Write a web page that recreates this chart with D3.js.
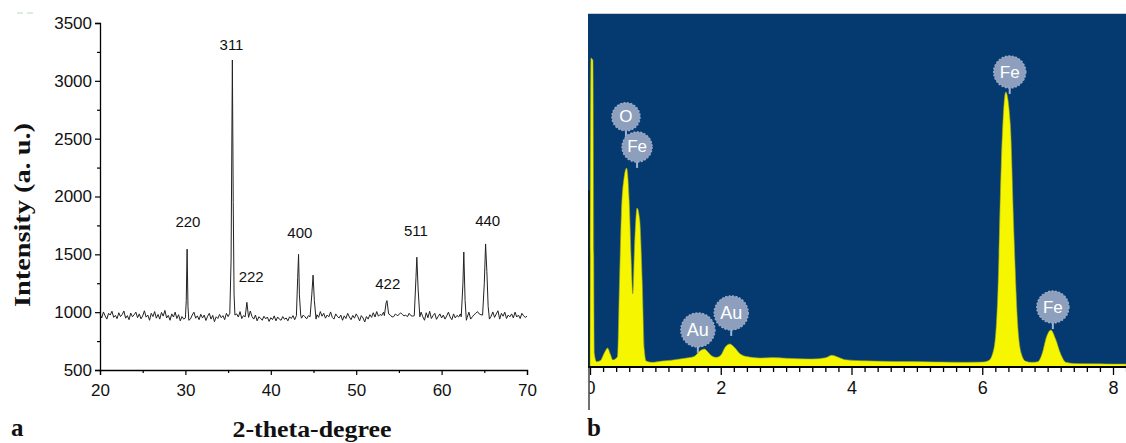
<!DOCTYPE html>
<html><head><meta charset="utf-8">
<script src="https://cdn.jsdelivr.net/npm/d3@7"></script>
<style>
html,body{margin:0;padding:0;background:#fff;}
svg{display:block;}
</style></head>
<body>
<svg id="c" width="1126" height="443"></svg>
<script>
// ---------- Panel a: XRD ----------
const xrdStart = 20, xrdStep = 0.2;
const xrdBaseline = [
 985, 950, 1002, 968, 940, 990, 975, 1008, 955, 972,
 944, 995, 962, 980, 1010, 948, 970, 935, 992, 960,
 978, 1000, 952, 985, 942, 968, 1012, 957, 975, 930,
 990, 962, 1005, 948, 980, 940, 998, 966, 1015, 950,
 972, 930, 985, 958, 1000, 945, 978, 925, 962, 940,
 955, 960, 990, 942, 975, 1000, 948, 968, 935, 982,
 950, 975, 928, 965, 990, 940, 972, 918, 960, 945,
 980, 952, 970, 935, 990, 962, 948, 975, 995, 960,
 985, 958, 1005, 945, 970, 932, 988, 955, 1010, 962,
 940, 975, 925, 960, 948, 930, 965, 942, 958, 920,
 952, 935, 968, 925, 958, 940, 930, 962, 938, 950,
 925, 960, 945, 970, 935, 955, 990, 960, 948, 975,
 960, 942, 970, 985, 960, 995, 940, 978, 955, 1005,
 965, 990, 948, 975, 960, 1002, 955, 940, 985, 962,
 950, 975, 930, 968, 945, 990, 958, 935, 972, 948,
 985, 960, 925, 970, 950, 915, 962, 940, 978, 955,
 995, 958, 1005, 965, 980, 972, 1000, 1010, 990, 960,
 975, 958, 962, 985, 970, 978, 995, 980, 968, 975,
 960, 990, 970, 965, 975, 985, 992, 945, 1000, 960,
 930, 995, 952, 1008, 945, 970, 990, 938, 962, 985,
 950, 975, 940, 968, 1000, 958, 935, 985, 950, 972,
 958, 985, 970, 990, 965, 955, 1000, 940, 960, 978,
 990, 1005, 985, 978, 1000, 998, 985, 935, 1010, 965,
 1002, 955, 985, 1012, 940, 990, 965, 1000, 945, 975,
 960, 985, 950, 1000, 958, 975, 945, 990, 968, 955,
 965
];
// peak profiles [2theta, intensity]
const xrdPeaks = [
 [[30.0, 950], [30.1, 1100], [30.2, 1545], [30.3, 1050], [30.4, 930]],
 [[35.2, 990], [35.35, 1450], [35.5, 3180], [35.6, 1950], [35.7, 1150], [35.8, 975]],
 [[37.0, 960], [37.2, 1085], [37.35, 985]],
 [[43.0, 970], [43.15, 1300], [43.25, 1500], [43.35, 1150], [43.5, 975]],
 [[44.6, 960], [44.8, 1150], [44.95, 1320], [45.1, 1100], [45.3, 940]],
 [[53.3, 970], [53.5, 1080], [53.6, 1100], [53.8, 985]],
 [[56.8, 970], [57.0, 1300], [57.1, 1475], [57.25, 1200], [57.45, 960]],
 [[62.3, 960], [62.5, 1250], [62.6, 1520], [62.75, 1100], [62.9, 930]],
 [[64.8, 975], [65.0, 1250], [65.15, 1590], [65.3, 1350], [65.45, 1050], [65.6, 940]]
];
const hklLabels = ["220", "311", "222", "400", "422", "511", "440"];
const hklTheta  = [30.3, 35.4, 37.7, 43.4, 53.7, 57.0, 65.4];
const hklLevel  = [1780, 3310, 1305, 1690, 1245, 1705, 1795];
const xrdXTicks = [20, 30, 40, 50, 60, 70];
const xrdYTicks = [500, 1000, 1500, 2000, 2500, 3000, 3500];

// ---------- Panel b: EDS ----------
const edsSpectrum = [
 [0.0, 40], [0.015, 2618], [0.045, 2600], [0.065, 120], [0.1, 45], [0.16, 55], [0.22, 120], [0.27, 161],
 [0.31, 110], [0.35, 60], [0.39, 70], [0.42, 90], [0.45, 700], [0.48, 1300], [0.52, 1600], [0.56, 1686],
 [0.6, 1400], [0.63, 900], [0.655, 620], [0.68, 1000], [0.72, 1347], [0.76, 1250], [0.8, 700],
 [0.83, 150], [0.86, 50], [0.95, 40], [1.0, 42], [1.1, 50], [1.2, 55], [1.3, 62], [1.4, 70], [1.5, 78],
 [1.6, 92], [1.68, 135], [1.75, 152], [1.8, 130], [1.86, 95], [1.93, 82], [2.0, 100], [2.07, 170],
 [2.14, 195], [2.2, 172], [2.3, 110], [2.4, 88], [2.5, 80], [2.6, 76], [2.8, 80], [3.0, 74], [3.2, 70],
 [3.4, 68], [3.6, 78], [3.7, 100], [3.8, 82], [3.9, 62], [4.2, 52], [4.5, 48], [4.8, 46], [5.1, 45],
 [5.4, 42], [5.7, 40], [6.0, 42], [6.1, 55], [6.18, 160], [6.24, 650], [6.29, 1700], [6.36, 2330],
 [6.43, 2050], [6.48, 1200], [6.54, 380], [6.6, 110], [6.66, 50], [6.75, 40], [6.85, 45], [6.92, 120],
 [6.98, 250], [7.05, 313], [7.12, 240], [7.2, 110], [7.28, 40], [7.4, 30], [7.6, 28], [7.8, 27],
 [8.0, 25], [8.2, 25]
];
const edsLabels = ["O", "Fe", "Au", "Au", "Fe", "Fe"];
const edsLabelKeV = [0.55, 0.72, 1.65, 2.16, 6.42, 7.08];
const edsLabelLevel = [2120, 1865, 314, 458, 2500, 508];
const edsXTicks = [0, 2, 4, 6, 8];

// ---------- drawing ----------
const svg = d3.select("#c");

// Panel a geometry
const ax = {l: 100, r: 527, t: 23, b: 370};
const xA = d3.scaleLinear().domain([20, 70]).range([ax.l, ax.r]);
const yA = d3.scaleLinear().domain([500, 3500]).range([ax.b, ax.t]);

// build data
const spans = xrdPeaks.map(p => [p[0][0], p[p.length - 1][0]]);
let xrd = xrdBaseline.map((v, i) => [+(xrdStart + i * xrdStep).toFixed(2), v])
  .filter(d => !spans.some(s => d[0] >= s[0] - 1e-9 && d[0] <= s[1] + 1e-9));
xrdPeaks.forEach(p => p.forEach(d => xrd.push(d)));
xrd.sort((a, b) => a[0] - b[0]);

svg.append("path").datum(xrd)
  .attr("d", d3.line().x(d => xA(d[0])).y(d => yA(d[1])))
  .attr("fill", "none").attr("stroke", "#222").attr("stroke-width", 1);

// axes
const gxA = svg.append("g").attr("transform", `translate(0,${ax.b})`)
  .call(d3.axisBottom(xA).tickValues(d3.range(20, 70.1, 5)).tickSize(5).tickFormat(d => xrdXTicks.includes(d) ? d : ""));
gxA.selectAll(".tick line").attr("y2", d => xrdXTicks.includes(d) ? 5 : 3);
const gyA = svg.append("g").attr("transform", `translate(${ax.l},0)`)
  .call(d3.axisLeft(yA).tickValues(d3.range(500, 3501, 250)).tickSize(5).tickFormat(d => xrdYTicks.includes(d) ? d : ""));
gyA.selectAll(".tick line").attr("x2", d => xrdYTicks.includes(d) ? -5 : -3);
[gxA, gyA].forEach(g => {
  g.select(".domain").attr("stroke", "#000").attr("stroke-width", 1.3);
  g.selectAll(".tick line").attr("stroke", "#000").attr("stroke-width", 1.2);
  g.selectAll("text").attr("font-family", "Liberation Sans, Arial, sans-serif").attr("font-size", 17).attr("fill", "#111");
});
gxA.selectAll("text").attr("dy", "1.05em");
gyA.selectAll("text").attr("x", -8);

// peak labels
svg.append("g").selectAll("text").data(hklLabels).join("text")
  .attr("x", (d, i) => xA(hklTheta[i])).attr("y", (d, i) => yA(hklLevel[i]))
  .attr("text-anchor", "middle").attr("dominant-baseline", "central")
  .attr("font-family", "Liberation Sans, Arial, sans-serif").attr("font-size", 15).attr("fill", "#111")
  .text(d => d);

// titles
svg.append("text").attr("transform", "translate(30,215) rotate(-90)")
  .attr("text-anchor", "middle").attr("font-family", "Liberation Serif, Times New Roman, serif")
  .attr("font-weight", "bold").attr("font-size", 24).attr("fill", "#111")
  .attr("textLength", 184).attr("lengthAdjust", "spacingAndGlyphs")
  .text("Intensity (a. u.)");
svg.append("text").attr("x", 312).attr("y", 437)
  .attr("text-anchor", "middle").attr("font-family", "Liberation Serif, Times New Roman, serif")
  .attr("font-weight", "bold").attr("font-size", 24).attr("fill", "#111")
  .attr("textLength", 159).attr("lengthAdjust", "spacingAndGlyphs")
  .text("2-theta-degree");
svg.append("text").attr("x", 11).attr("y", 436)
  .attr("font-family", "Liberation Serif, Times New Roman, serif")
  .attr("font-weight", "bold").attr("font-size", 25).attr("fill", "#111").text("a");
// faint artifact dashes
svg.append("line").attr("x1", 17).attr("x2", 23).attr("y1", 13).attr("y2", 13).attr("stroke", "#b8dcc0").attr("stroke-width", 1);
svg.append("line").attr("x1", 27).attr("x2", 33).attr("y1", 13).attr("y2", 13).attr("stroke", "#b8dcc0").attr("stroke-width", 1);

// Panel b geometry
const bx = {l: 588, r: 1126, t: 13, b: 367};
const xB = d3.scaleLinear().domain([0, 8]).range([590, 1113]);
const yB = d3.scaleLinear().domain([0, 3000]).range([bx.b, bx.t]);

svg.append("rect").attr("x", bx.l).attr("y", bx.t).attr("width", bx.r - bx.l).attr("height", bx.b - bx.t)
  .attr("fill", "#053a70");
svg.append("line").attr("x1", bx.l).attr("x2", bx.r).attr("y1", bx.t + 0.5).attr("y2", bx.t + 0.5)
  .attr("stroke", "#c9cdd4").attr("stroke-width", 1);

svg.append("clipPath").attr("id", "bclip").append("rect")
  .attr("x", bx.l).attr("y", bx.t).attr("width", bx.r - bx.l).attr("height", bx.b - bx.t);

svg.append("path").datum(edsSpectrum).attr("clip-path", "url(#bclip)")
  .attr("d", d3.area().x(d => xB(d[0])).y0(yB(0)).y1(d => yB(d[1])).curve(d3.curveMonotoneX))
  .attr("fill", "#f6f600").attr("stroke", "#9aa520").attr("stroke-width", 0.6);

// EDS axis
const gxB = svg.append("g").attr("transform", `translate(0,${bx.b})`)
  .call(d3.axisBottom(xB).tickValues(d3.range(0, 8.21, 0.2).map(v => +v.toFixed(1))).tickSize(5)
    .tickFormat(d => edsXTicks.includes(d) ? d : ""));
gxB.select(".domain").remove();
gxB.selectAll(".tick line").attr("stroke", "#000").attr("stroke-width", 1.3)
  .attr("y2", d => edsXTicks.includes(d) ? 8 : 5);
gxB.selectAll("text").attr("font-family", "Liberation Sans, Arial, sans-serif").attr("font-size", 18)
  .attr("fill", "#111").attr("dy", "1.05em");
svg.append("line").attr("x1", bx.l).attr("x2", bx.r).attr("y1", bx.b).attr("y2", bx.b)
  .attr("stroke", "#000").attr("stroke-width", 2);
svg.append("line").attr("x1", 589).attr("x2", 589).attr("y1", 190).attr("y2", 410)
  .attr("stroke", "#111").attr("stroke-width", 1.2);
// clip the "0" label like the reference (local coords of the tick group)
svg.append("clipPath").attr("id", "zclip").append("rect").attr("x", -1).attr("y", 0).attr("width", 40).attr("height", 60);
gxB.selectAll(".tick").filter(d => d === 0).attr("clip-path", "url(#zclip)");

// EDS element markers
const radius = [14, 15, 17, 17, 16, 16];
const mk = svg.append("g").selectAll("g").data(edsLabels).join("g")
  .attr("transform", (d, i) => `translate(${xB(edsLabelKeV[i])},${yB(edsLabelLevel[i])})`);
mk.append("line").attr("x1", 0).attr("x2", 0).attr("y1", (d, i) => radius[i] - 2).attr("y2", (d, i) => radius[i] + 6)
  .attr("stroke", "#9fb3d3").attr("stroke-width", 2);
mk.append("circle").attr("r", (d, i) => radius[i]).attr("fill", "#8e9fbd")
  .attr("stroke", "#9aabc6").attr("stroke-width", 1.5).attr("stroke-dasharray", "2 1.5");
mk.append("text").attr("text-anchor", "middle").attr("dominant-baseline", "central")
  .attr("font-family", "Liberation Sans, Arial, sans-serif").attr("font-size", (d, i) => i >= 2 && i <= 3 ? 18 : 17)
  .attr("fill", "#fff").text(d => d);

svg.append("text").attr("x", 587).attr("y", 436)
  .attr("font-family", "Liberation Serif, Times New Roman, serif")
  .attr("font-weight", "bold").attr("font-size", 25).attr("fill", "#111").text("b");
</script>
</body></html>
